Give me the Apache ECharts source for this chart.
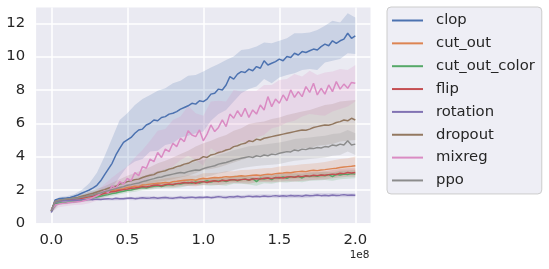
<!DOCTYPE html>
<html><head><meta charset="utf-8">
<script src="https://cdn.jsdelivr.net/npm/echarts@6/dist/echarts.min.js"></script>
<style>html,body{margin:0;padding:0;background:#fff}#c{width:549px;height:269px}</style>
</head><body><div id="c"></div>
<script>
const names = ['clop','cut_out','cut_out_color','flip','rotation','dropout','mixreg','ppo'];
const colors = ['#4C72B0','#DD8452','#55A868','#C44E52','#8172B3','#937860','#DA8BC3','#8C8C8C'];
const xTicks = [0, 0.5e8, 1e8, 1.5e8, 2e8];
const xTickLabels = ['0.0','0.5','1.0','1.5','2.0'];
const yTicks = [0,2,4,6,8,10,12];
const stepSize = 2.5e6;   // mean curves: one value every 2.5M steps (81 values)
const ciStepSize = 5e6;   // band half-widths: one value every 5M steps (41 values)

const clop = [0.75,1.40,1.48,1.50,1.52,1.55,1.62,1.70,1.80,1.90,
  2.00,2.12,2.28,2.55,2.90,3.25,3.60,4.10,4.50,4.85,
  5.00,5.15,5.40,5.60,5.65,5.90,6.00,6.20,6.15,6.35,
  6.40,6.55,6.60,6.70,6.85,6.95,7.05,7.20,7.15,7.35,
  7.30,7.45,7.75,7.80,8.05,8.00,8.30,8.80,8.65,8.95,
  9.10,9.05,9.25,9.15,9.40,9.30,9.75,9.50,9.60,9.70,
  9.85,9.75,10.00,9.95,10.20,10.10,10.30,10.25,10.35,10.45,
  10.40,10.60,10.75,10.65,10.95,10.80,10.95,11.05,11.40,11.10,
  11.25];
const cut_out = [0.75,1.30,1.36,1.40,1.42,1.45,1.48,1.52,1.55,1.60,
  1.62,1.68,1.75,1.78,1.85,1.90,1.95,2.00,2.05,2.08,
  2.15,2.18,2.22,2.20,2.30,2.32,2.35,2.38,2.40,2.42,
  2.45,2.42,2.50,2.52,2.55,2.58,2.60,2.62,2.58,2.66,
  2.70,2.68,2.72,2.75,2.73,2.76,2.80,2.78,2.80,2.82,
  2.85,2.83,2.86,2.88,2.90,2.87,2.92,2.95,2.93,2.98,
  3.00,3.02,3.05,3.03,3.08,3.10,3.12,3.10,3.15,3.18,
  3.16,3.20,3.22,3.25,3.28,3.30,3.35,3.38,3.40,3.42,
  3.45];
const cut_out_color = [0.70,1.18,1.22,1.24,1.25,1.28,1.30,1.32,1.38,1.42,
  1.45,1.52,1.58,1.62,1.68,1.72,1.78,1.82,1.88,1.92,
  1.98,2.00,2.05,2.10,2.15,2.12,2.18,2.22,2.25,2.20,
  2.28,2.32,2.30,2.38,2.35,2.42,2.45,2.40,2.48,2.42,
  2.50,2.55,2.48,2.55,2.52,2.58,2.50,2.60,2.62,2.55,
  2.62,2.65,2.58,2.68,2.50,2.70,2.66,2.72,2.62,2.75,
  2.72,2.78,2.70,2.80,2.76,2.82,2.72,2.84,2.80,2.86,
  2.82,2.88,2.85,2.92,2.80,2.94,2.90,2.96,2.92,2.98,
  2.95];
const flip = [0.75,1.30,1.36,1.38,1.40,1.42,1.45,1.48,1.50,1.55,
  1.60,1.62,1.70,1.72,1.80,1.85,1.90,1.92,1.98,2.02,
  2.05,2.10,2.12,2.15,2.20,2.18,2.22,2.28,2.30,2.25,
  2.32,2.35,2.33,2.38,2.40,2.45,2.42,2.46,2.40,2.48,
  2.50,2.45,2.52,2.55,2.50,2.58,2.55,2.60,2.62,2.58,
  2.62,2.65,2.60,2.66,2.68,2.65,2.70,2.72,2.68,2.74,
  2.75,2.72,2.78,2.80,2.76,2.82,2.80,2.85,2.83,2.88,
  2.86,2.90,2.88,2.92,2.95,2.93,3.00,2.98,3.05,3.02,
  3.05];
const rotation = [0.65,1.25,1.32,1.35,1.36,1.38,1.40,1.38,1.42,1.40,
  1.44,1.42,1.45,1.43,1.46,1.48,1.45,1.50,1.47,1.48,
  1.50,1.52,1.48,1.50,1.53,1.50,1.52,1.55,1.50,1.53,
  1.55,1.52,1.50,1.54,1.56,1.52,1.55,1.57,1.53,1.56,
  1.55,1.58,1.54,1.56,1.60,1.57,1.55,1.60,1.58,1.62,
  1.58,1.60,1.63,1.59,1.62,1.60,1.64,1.61,1.63,1.66,
  1.62,1.65,1.63,1.67,1.64,1.66,1.62,1.68,1.65,1.67,
  1.70,1.66,1.68,1.65,1.70,1.67,1.69,1.72,1.68,1.70,
  1.68];
const dropout = [0.75,1.30,1.38,1.42,1.45,1.48,1.52,1.55,1.62,1.68,
  1.75,1.80,1.88,1.95,2.02,2.10,2.18,2.22,2.35,2.40,
  2.50,2.55,2.62,2.65,2.75,2.82,2.88,2.92,3.05,3.10,
  3.15,3.25,3.30,3.40,3.45,3.55,3.60,3.72,3.80,3.85,
  4.00,3.95,4.10,4.15,4.25,4.30,4.40,4.45,4.60,4.65,
  4.75,4.80,4.95,4.90,5.05,5.00,5.10,5.15,5.20,5.25,
  5.30,5.35,5.40,5.45,5.50,5.55,5.60,5.58,5.65,5.75,
  5.80,5.85,5.90,5.88,5.95,6.05,6.10,6.20,6.15,6.30,
  6.20];
const mixreg = [0.80,1.10,1.15,1.20,1.22,1.25,1.28,1.30,1.32,1.38,
  1.45,1.55,1.65,1.80,1.95,1.85,2.25,2.10,2.50,2.35,
  2.70,2.55,3.05,2.85,3.40,3.30,3.85,3.70,4.25,3.95,
  4.45,4.30,4.80,4.60,5.10,4.90,5.55,5.30,5.20,5.60,
  4.95,5.35,5.90,5.50,5.75,6.20,5.80,6.55,6.30,6.75,
  6.40,6.90,6.35,6.80,6.55,7.10,6.80,7.60,7.00,7.45,
  7.20,7.70,7.35,8.00,7.55,7.90,7.60,8.20,7.85,8.40,
  7.70,8.10,7.75,8.30,7.90,8.50,8.05,8.35,8.10,8.45,
  8.40];
const ppo = [0.75,1.30,1.38,1.42,1.45,1.48,1.50,1.52,1.56,1.60,
  1.65,1.70,1.78,1.82,1.90,1.95,2.02,2.08,2.15,2.20,
  2.28,2.32,2.38,2.42,2.50,2.55,2.62,2.68,2.75,2.78,
  2.85,2.90,2.95,3.00,3.05,3.02,3.10,3.15,3.20,3.18,
  3.28,3.35,3.40,3.45,3.55,3.60,3.65,3.72,3.80,3.85,
  3.90,3.95,4.00,3.95,4.05,4.00,4.10,4.05,4.15,4.12,
  4.20,4.25,4.30,4.28,4.40,4.35,4.45,4.42,4.50,4.48,
  4.55,4.52,4.60,4.58,4.70,4.65,4.75,4.70,4.95,4.70,
  4.75];

const clop_ci = [0.10,0.10,0.10,0.12,0.20,0.40,0.75,1.10,1.50,1.70,
  1.60,1.70,1.80,1.70,1.80,1.70,1.80,1.70,1.80,1.75,
  1.80,1.60,1.50,1.50,1.35,1.30,1.20,1.20,1.10,1.20,
  1.10,1.10,1.20,1.10,1.10,1.20,1.10,1.20,1.10,1.20,
  1.10];
const cut_out_ci = [0.08,0.08,0.08,0.10,0.10,0.12,0.12,0.14,0.15,0.16,
  0.18,0.20,0.20,0.22,0.22,0.25,0.25,0.25,0.28,0.28,
  0.30,0.30,0.30,0.32,0.32,0.35,0.35,0.35,0.38,0.38,
  0.40,0.40,0.40,0.42,0.42,0.45,0.45,0.48,0.50,0.50,
  0.55];
const cut_out_color_ci = [0.08,0.10,0.10,0.10,0.10,0.12,0.12,0.12,0.14,0.14,
  0.15,0.15,0.16,0.16,0.18,0.18,0.20,0.20,0.20,0.20,
  0.22,0.22,0.22,0.25,0.25,0.25,0.25,0.25,0.25,0.25,
  0.25,0.25,0.25,0.25,0.25,0.25,0.25,0.25,0.25,0.25,
  0.25];
const flip_ci = [0.08,0.08,0.08,0.08,0.10,0.10,0.10,0.12,0.12,0.12,
  0.14,0.14,0.15,0.15,0.15,0.16,0.16,0.18,0.18,0.18,
  0.20,0.20,0.20,0.20,0.20,0.22,0.22,0.22,0.22,0.22,
  0.25,0.25,0.25,0.25,0.25,0.25,0.25,0.25,0.25,0.25,
  0.25];
const rotation_ci = [0.08,0.08,0.08,0.08,0.08,0.08,0.08,0.08,0.08,0.08,
  0.10,0.10,0.10,0.10,0.10,0.10,0.10,0.10,0.10,0.10,
  0.10,0.10,0.10,0.10,0.10,0.10,0.10,0.10,0.10,0.10,
  0.12,0.12,0.12,0.12,0.12,0.12,0.12,0.12,0.12,0.12,
  0.12];
const dropout_ci = [0.10,0.10,0.10,0.10,0.12,0.15,0.18,0.20,0.25,0.30,
  0.35,0.40,0.45,0.50,0.55,0.60,0.65,0.70,0.75,0.80,
  0.80,0.85,0.90,0.90,0.95,0.95,1.00,1.00,1.00,1.05,
  1.05,1.10,1.10,1.10,1.15,1.15,1.20,1.20,1.20,1.20,
  1.20];
const mixreg_ci = [0.15,0.18,0.18,0.18,0.20,0.25,0.30,0.40,0.50,0.60,
  0.70,0.90,1.00,1.10,1.30,1.20,1.40,1.30,1.50,1.40,
  1.50,1.40,1.60,1.50,1.70,1.50,1.60,1.40,1.50,1.30,
  1.40,1.30,1.40,1.20,1.30,1.20,1.30,1.20,1.20,1.10,
  1.10];
const ppo_ci = [0.10,0.10,0.10,0.10,0.12,0.15,0.18,0.20,0.22,0.25,
  0.28,0.30,0.32,0.35,0.38,0.40,0.42,0.45,0.48,0.50,
  0.52,0.54,0.56,0.58,0.60,0.60,0.62,0.62,0.62,0.64,
  0.64,0.64,0.65,0.65,0.65,0.65,0.65,0.65,0.65,0.65,
  0.65];

const means = {clop, cut_out, cut_out_color, flip, rotation, dropout, mixreg, ppo};
const cis = {clop:clop_ci, cut_out:cut_out_ci, cut_out_color:cut_out_color_ci, flip:flip_ci,
  rotation:rotation_ci, dropout:dropout_ci, mixreg:mixreg_ci, ppo:ppo_ci};

const FONT = 'DejaVu Sans';
const TXT = '#262626';
const series = [];
names.forEach((n, k) => {
  const m = means[n];
  const ci = cis[n];
  series.push({
    type: 'line', name: n, symbol: 'none', animation: false,
    data: m.map((v, i) => [i * stepSize, v]),
    lineStyle: {width: 1.5, color: colors[k]},
    itemStyle: {color: colors[k]}
  });
  const upper = ci.map((c, j) => [j * ciStepSize, m[2 * j] + c]);
  const lower = ci.map((c, j) => [j * ciStepSize, m[2 * j] - c]);
  const fill = echarts.color.modifyAlpha(colors[k], 0.2);
  series.push({
    type: 'custom', name: n + '_ci', silent: true, animation: false,
    data: [[0, m[0]]], encode: {x: 0, y: 1},
    renderItem: (params, api) => {
      const pts = upper.concat(lower.slice().reverse()).map(p => api.coord(p));
      return {type: 'polygon', shape: {points: pts}, style: {fill: fill}};
    }
  });
});

const chart = echarts.init(document.getElementById('c'), null, {renderer: 'canvas'});
chart.setOption({
  animation: false,
  backgroundColor: '#ffffff',
  grid: {left: 36.1, top: 7.6, width: 334.4, height: 215.7, show: true,
    backgroundColor: '#EAEAF2', borderWidth: 0, containLabel: false},
  xAxis: {
    type: 'value', min: -1e7, max: 2.1e8,
    axisLine: {show: false},
    axisTick: {show: false, customValues: xTicks},
    axisLabel: {customValues: xTicks, margin: 9, fontFamily: FONT, fontSize: 14.8, color: TXT,
      formatter: v => xTickLabels[xTicks.indexOf(v)] ?? ''},
    splitLine: {show: true, lineStyle: {color: '#ffffff', width: 1.5}}
  },
  yAxis: {
    type: 'value', min: 0, max: 12.94, interval: 2,
    axisLine: {show: false},
    axisTick: {show: false, customValues: yTicks},
    axisLabel: {customValues: yTicks, margin: 11, fontFamily: FONT, fontSize: 14.8, color: TXT},
    splitLine: {show: true, lineStyle: {color: '#ffffff', width: 1.5}}
  },
  legend: {
    data: names, orient: 'vertical', left: 387, top: 7,
    padding: [6, 7, 6, 5], itemWidth: 31, itemHeight: 15, itemGap: 7.85,
    icon: 'path://M0,0L31,0L31,2L0,2Z', symbolKeepAspect: true,
    backgroundColor: 'rgba(234,234,242,0.8)', borderColor: '#cccccc', borderWidth: 1, borderRadius: 4,
    textStyle: {fontFamily: FONT, fontSize: 14.8, color: TXT, padding: [0, 0, 0, 8]}
  },
  graphic: [{
    type: 'text', x: 369.5, y: 255,
    style: {text: '1e8', fontFamily: FONT, fontSize: 10.5, fill: TXT, textAlign: 'right', textVerticalAlign: 'middle'}
  }],
  series: series
});
</script>
</body></html>
